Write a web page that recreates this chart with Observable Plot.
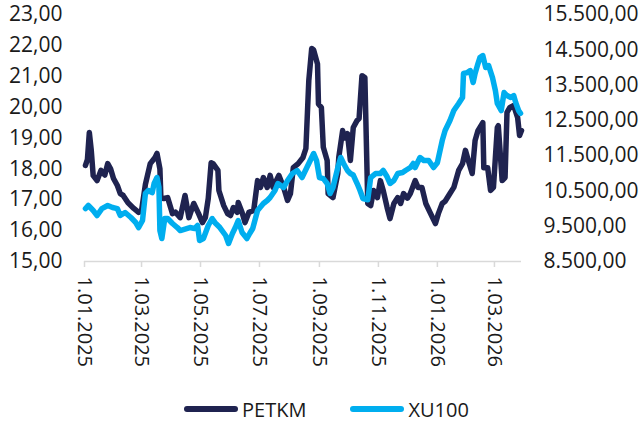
<!DOCTYPE html>
<html><head><meta charset="utf-8">
<script src="https://cdn.jsdelivr.net/npm/d3@7"></script>
<script src="https://cdn.jsdelivr.net/npm/@observablehq/plot@0.6"></script>
<style>
body{margin:0;background:#fff;font-family:"Open Sans",sans-serif;}
#legend{display:flex;justify-content:center;align-items:center;height:34px;font-size:20px;color:#1a1a1a;padding-left:12px;}
.item{display:flex;align-items:center;margin:0 22px;}
.sw{width:54px;height:6px;border-radius:3px;margin-right:4px;}
</style>
</head><body>
<div id="chart"></div>
<div id="legend"></div>
<script>
const seriesNames = ["PETKM", "XU100"];
const seriesColors = ["#1f2350", "#00aeef"];

const petkmDates = ["2025-01-02","2025-01-04","2025-01-06","2025-01-08","2025-01-10","2025-01-14","2025-01-18","2025-01-22","2025-01-25","2025-01-28","2025-01-31","2025-02-04","2025-02-07","2025-02-10","2025-02-15","2025-02-21","2025-02-26","2025-03-01","2025-03-05","2025-03-10","2025-03-15","2025-03-17","2025-03-20","2025-03-21","2025-03-24","2025-03-28","2025-04-02","2025-04-05","2025-04-10","2025-04-15","2025-04-19","2025-04-24","2025-04-29","2025-05-03","2025-05-06","2025-05-09","2025-05-12","2025-05-14","2025-05-19","2025-05-20","2025-05-25","2025-05-29","2025-06-01","2025-06-04","2025-06-08","2025-06-09","2025-06-13","2025-06-16","2025-06-20","2025-06-25","2025-06-29","2025-07-02","2025-07-05","2025-07-09","2025-07-12","2025-07-15","2025-07-21","2025-07-26","2025-07-30","2025-08-02","2025-08-05","2025-08-10","2025-08-15","2025-08-18","2025-08-21","2025-08-24","2025-08-26","2025-08-30","2025-08-31","2025-09-03","2025-09-05","2025-09-09","2025-09-10","2025-09-15","2025-09-20","2025-09-21","2025-09-25","2025-09-27","2025-09-30","2025-10-03","2025-10-06","2025-10-10","2025-10-12","2025-10-15","2025-10-18","2025-10-21","2025-10-24","2025-10-27","2025-10-31","2025-11-03","2025-11-06","2025-11-10","2025-11-13","2025-11-17","2025-11-21","2025-11-24","2025-11-27","2025-12-01","2025-12-04","2025-12-09","2025-12-12","2025-12-16","2025-12-20","2025-12-25","2025-12-30","2026-01-02","2026-01-06","2026-01-09","2026-01-14","2026-01-18","2026-01-23","2026-01-27","2026-01-30","2026-02-02","2026-02-06","2026-02-09","2026-02-12","2026-02-17","2026-02-18","2026-02-22","2026-02-25","2026-02-28","2026-03-04","2026-03-05","2026-03-09","2026-03-12","2026-03-14","2026-03-17","2026-03-21","2026-03-25","2026-03-27","2026-03-29"];
const petkmValues = [18.11,18.3,19.18,18.6,17.78,17.62,17.95,17.8,18.17,18.0,17.69,17.46,17.2,17.14,16.9,16.72,16.59,16.65,17.5,18.17,18.37,18.5,18.0,17.07,17.04,17.07,16.55,16.6,16.42,17.14,16.42,16.88,16.55,16.26,16.42,17.04,18.2,18.17,17.95,17.3,16.81,16.55,16.49,16.75,16.59,16.91,16.59,16.26,16.59,16.65,17.62,17.4,17.72,17.4,17.79,17.4,17.79,17.4,16.98,17.2,18.04,18.17,18.37,18.66,20.86,21.9,21.85,21.4,20.1,19.99,18.7,18.27,17.2,17.07,17.85,18.37,19.24,19.0,19.14,18.27,19.34,19.57,19.63,21.02,20.96,16.88,16.81,17.3,17.07,17.62,17.3,16.75,16.39,16.88,17.07,16.88,17.2,17.05,17.2,17.62,17.4,17.4,16.88,16.55,16.23,16.55,16.88,16.95,17.2,17.4,17.95,18.17,18.6,18.27,17.85,18.92,19.24,19.5,18.04,18.04,17.3,17.4,19.34,19.4,17.62,17.72,19.83,19.99,20.05,19.66,19.08,19.24];

const xu100Dates = ["2025-01-02","2025-01-05","2025-01-10","2025-01-14","2025-01-19","2025-01-25","2025-01-30","2025-02-04","2025-02-07","2025-02-12","2025-02-18","2025-02-23","2025-02-26","2025-03-02","2025-03-05","2025-03-08","2025-03-12","2025-03-14","2025-03-17","2025-03-19","2025-03-20","2025-03-22","2025-03-25","2025-03-28","2025-04-02","2025-04-07","2025-04-10","2025-04-15","2025-04-20","2025-04-25","2025-04-28","2025-04-30","2025-05-04","2025-05-09","2025-05-13","2025-05-16","2025-05-21","2025-05-27","2025-05-30","2025-06-03","2025-06-06","2025-06-09","2025-06-13","2025-06-18","2025-06-21","2025-06-24","2025-06-29","2025-07-05","2025-07-09","2025-07-12","2025-07-17","2025-07-20","2025-07-26","2025-07-30","2025-08-04","2025-08-09","2025-08-14","2025-08-19","2025-08-24","2025-08-26","2025-08-29","2025-09-01","2025-09-05","2025-09-09","2025-09-12","2025-09-15","2025-09-20","2025-09-23","2025-09-26","2025-09-30","2025-10-03","2025-10-06","2025-10-10","2025-10-13","2025-10-16","2025-10-21","2025-10-24","2025-10-29","2025-11-03","2025-11-06","2025-11-10","2025-11-13","2025-11-17","2025-11-21","2025-11-26","2025-11-29","2025-12-04","2025-12-07","2025-12-09","2025-12-14","2025-12-18","2025-12-23","2025-12-28","2026-01-01","2026-01-06","2026-01-09","2026-01-14","2026-01-18","2026-01-23","2026-01-27","2026-01-28","2026-02-01","2026-02-04","2026-02-07","2026-02-09","2026-02-12","2026-02-14","2026-02-17","2026-02-20","2026-02-23","2026-02-27","2026-03-02","2026-03-04","2026-03-08","2026-03-11","2026-03-14","2026-03-18","2026-03-21","2026-03-23","2026-03-26","2026-03-28"];
const xu100Values = [10000,10087,9945,9803,10000,10087,10030,10000,9803,9890,9747,9605,9463,9662,10427,10512,10450,10710,10880,10600,9378,9152,9718,9718,9577,9463,9378,9420,9463,9435,9520,9095,9152,9520,9718,9600,9463,9237,9010,9293,9463,9662,9322,9152,9300,9435,9945,10143,10228,10313,10512,10710,10597,10795,10993,11078,10880,11163,11447,11560,11362,10880,10850,10710,10427,10597,11163,11447,11277,11078,10993,10950,10710,10512,10285,10250,10880,10993,10993,11078,10900,10710,10795,10993,11022,11078,11163,11277,11163,11447,11362,11362,11163,11300,11928,12211,12495,12778,12977,13147,13827,13855,13912,13572,13827,14110,14280,14337,13997,14053,13713,13345,12977,12778,13288,13203,13147,13200,13005,12778,12700];

const leftTicks = [15,16,17,18,19,20,21,22,23];
const rightTicks = [8500,9500,10500,11500,12500,13500,14500,15500];
const xTickDates = ["2025-01-01","2025-03-01","2025-05-01","2025-07-01","2025-09-01","2025-11-01","2026-01-01","2026-03-01"];

const parse = d3.utcParse("%Y-%m-%d");
const petkm = petkmDates.map((d,i)=>({date: parse(d), value: petkmValues[i]}));
const xu100 = xu100Dates.map((d,i)=>({date: parse(d), value: xu100Values[i]}));

const L = [15,23], R = [8500,15500];
const toLeft = v => L[0] + (v - R[0]) * (L[1]-L[0]) / (R[1]-R[0]);
const fromLeft = y => R[0] + (y - L[0]) * (R[1]-R[0]) / (L[1]-L[0]);

const fmtNum = d3.formatLocale({decimal: ",", thousands: ".", grouping: [3], currency: ["", ""]}).format(",.2f");
const fmtDate = d => `${d.getUTCDate()}.${String(d.getUTCMonth()+1).padStart(2,"0")}.${d.getUTCFullYear()}`;

const chart = Plot.plot({
  width: 641, height: 392,
  marginTop: 14, marginBottom: 131, marginLeft: 84, marginRight: 120,
  style: {fontFamily: "Open Sans, sans-serif", fontSize: "20px", color: "#1a1a1a", background: "#fff"},
  x: {type: "utc", domain: [parse("2025-01-01"), parse("2026-03-29")]},
  y: {domain: L},
  marks: [
    Plot.axisY({anchor: "left", ticks: leftTicks, tickFormat: fmtNum, tickSize: 0, tickPadding: 22, fontSize: 21, label: null}),
    Plot.axisY({anchor: "right", ticks: rightTicks.map(toLeft), tickFormat: d => fmtNum(Math.round(fromLeft(d))), tickSize: 0, tickPadding: 22, fontSize: 21, label: null}),
    Plot.ruleY([L[0]], {stroke: "#d9d9d9", strokeWidth: 1.5}),
    Plot.axisX({ticks: xTickDates.map(parse), tickFormat: fmtDate, tickRotate: 90, tickSize: 6, tickPadding: 9, stroke: "#d9d9d9", strokeWidth: 1.5, strokeOpacity: 1, fill: "#1a1a1a", fontSize: 20, label: null}),
    Plot.line(petkm, {x: "date", y: "value", stroke: seriesColors[0], strokeWidth: 5.5, strokeLinejoin: "round"}),
    Plot.line(xu100, {x: "date", y: d => toLeft(d.value), stroke: seriesColors[1], strokeWidth: 5.5, strokeLinejoin: "round"})
  ]
});
document.getElementById("chart").appendChild(chart);

const legend = document.getElementById("legend");
seriesNames.forEach((n,i)=>{
  const it = document.createElement("div"); it.className = "item";
  const sw = document.createElement("div"); sw.className = "sw"; sw.style.background = seriesColors[i];
  const t = document.createElement("span"); t.textContent = n;
  it.appendChild(sw); it.appendChild(t); legend.appendChild(it);
});
</script>
</body></html>
